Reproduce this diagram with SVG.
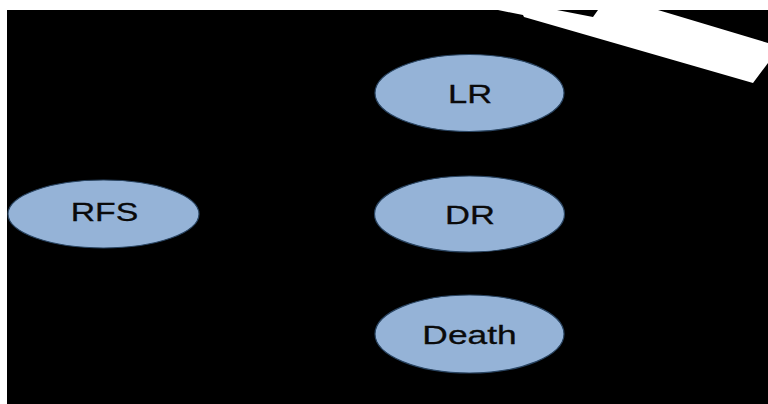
<svg xmlns="http://www.w3.org/2000/svg" width="768" height="404" viewBox="0 0 768 404">
  <style>
    .node ellipse { fill: #95b3d7; stroke: #2a4562; stroke-width: 1.2; }
    .node text { font-family: "Liberation Sans", Arial, sans-serif; font-size: 26px; fill: #0a0a0a; stroke: #0a0a0a; stroke-width: 0.3; text-anchor: middle; }
  </style>
  <!-- page background and dark canvas -->
  <rect x="0" y="0" width="768" height="404" fill="#ffffff"/>
  <rect x="7" y="10" width="761" height="394" fill="#000000"/>

  <!-- connectors: only the clipped white band at the top right remains -->
  <g id="connectors">
    <polygon points="498,10 523,15 524,17 753,83 768,63 768,43 658,10 598,10 593,17 557,10" fill="#ffffff"/>
  </g>

  <g id="node-rfs" class="node">
    <ellipse cx="103.5" cy="214" rx="95.5" ry="34"/>
    <text transform="translate(104.5,220.5) scale(1.30,1)">RFS</text>
  </g>
  <g id="node-lr" class="node">
    <ellipse cx="469.5" cy="93" rx="94.5" ry="38.5"/>
    <text transform="translate(470,103) scale(1.33,1)">LR</text>
  </g>
  <g id="node-dr" class="node">
    <ellipse cx="469.5" cy="214" rx="95" ry="38"/>
    <text transform="translate(470,223.5) scale(1.33,1)">DR</text>
  </g>
  <g id="node-death" class="node">
    <ellipse cx="469.5" cy="334" rx="94.5" ry="39"/>
    <text transform="translate(469.5,344) scale(1.36,1)">Death</text>
  </g>
</svg>
